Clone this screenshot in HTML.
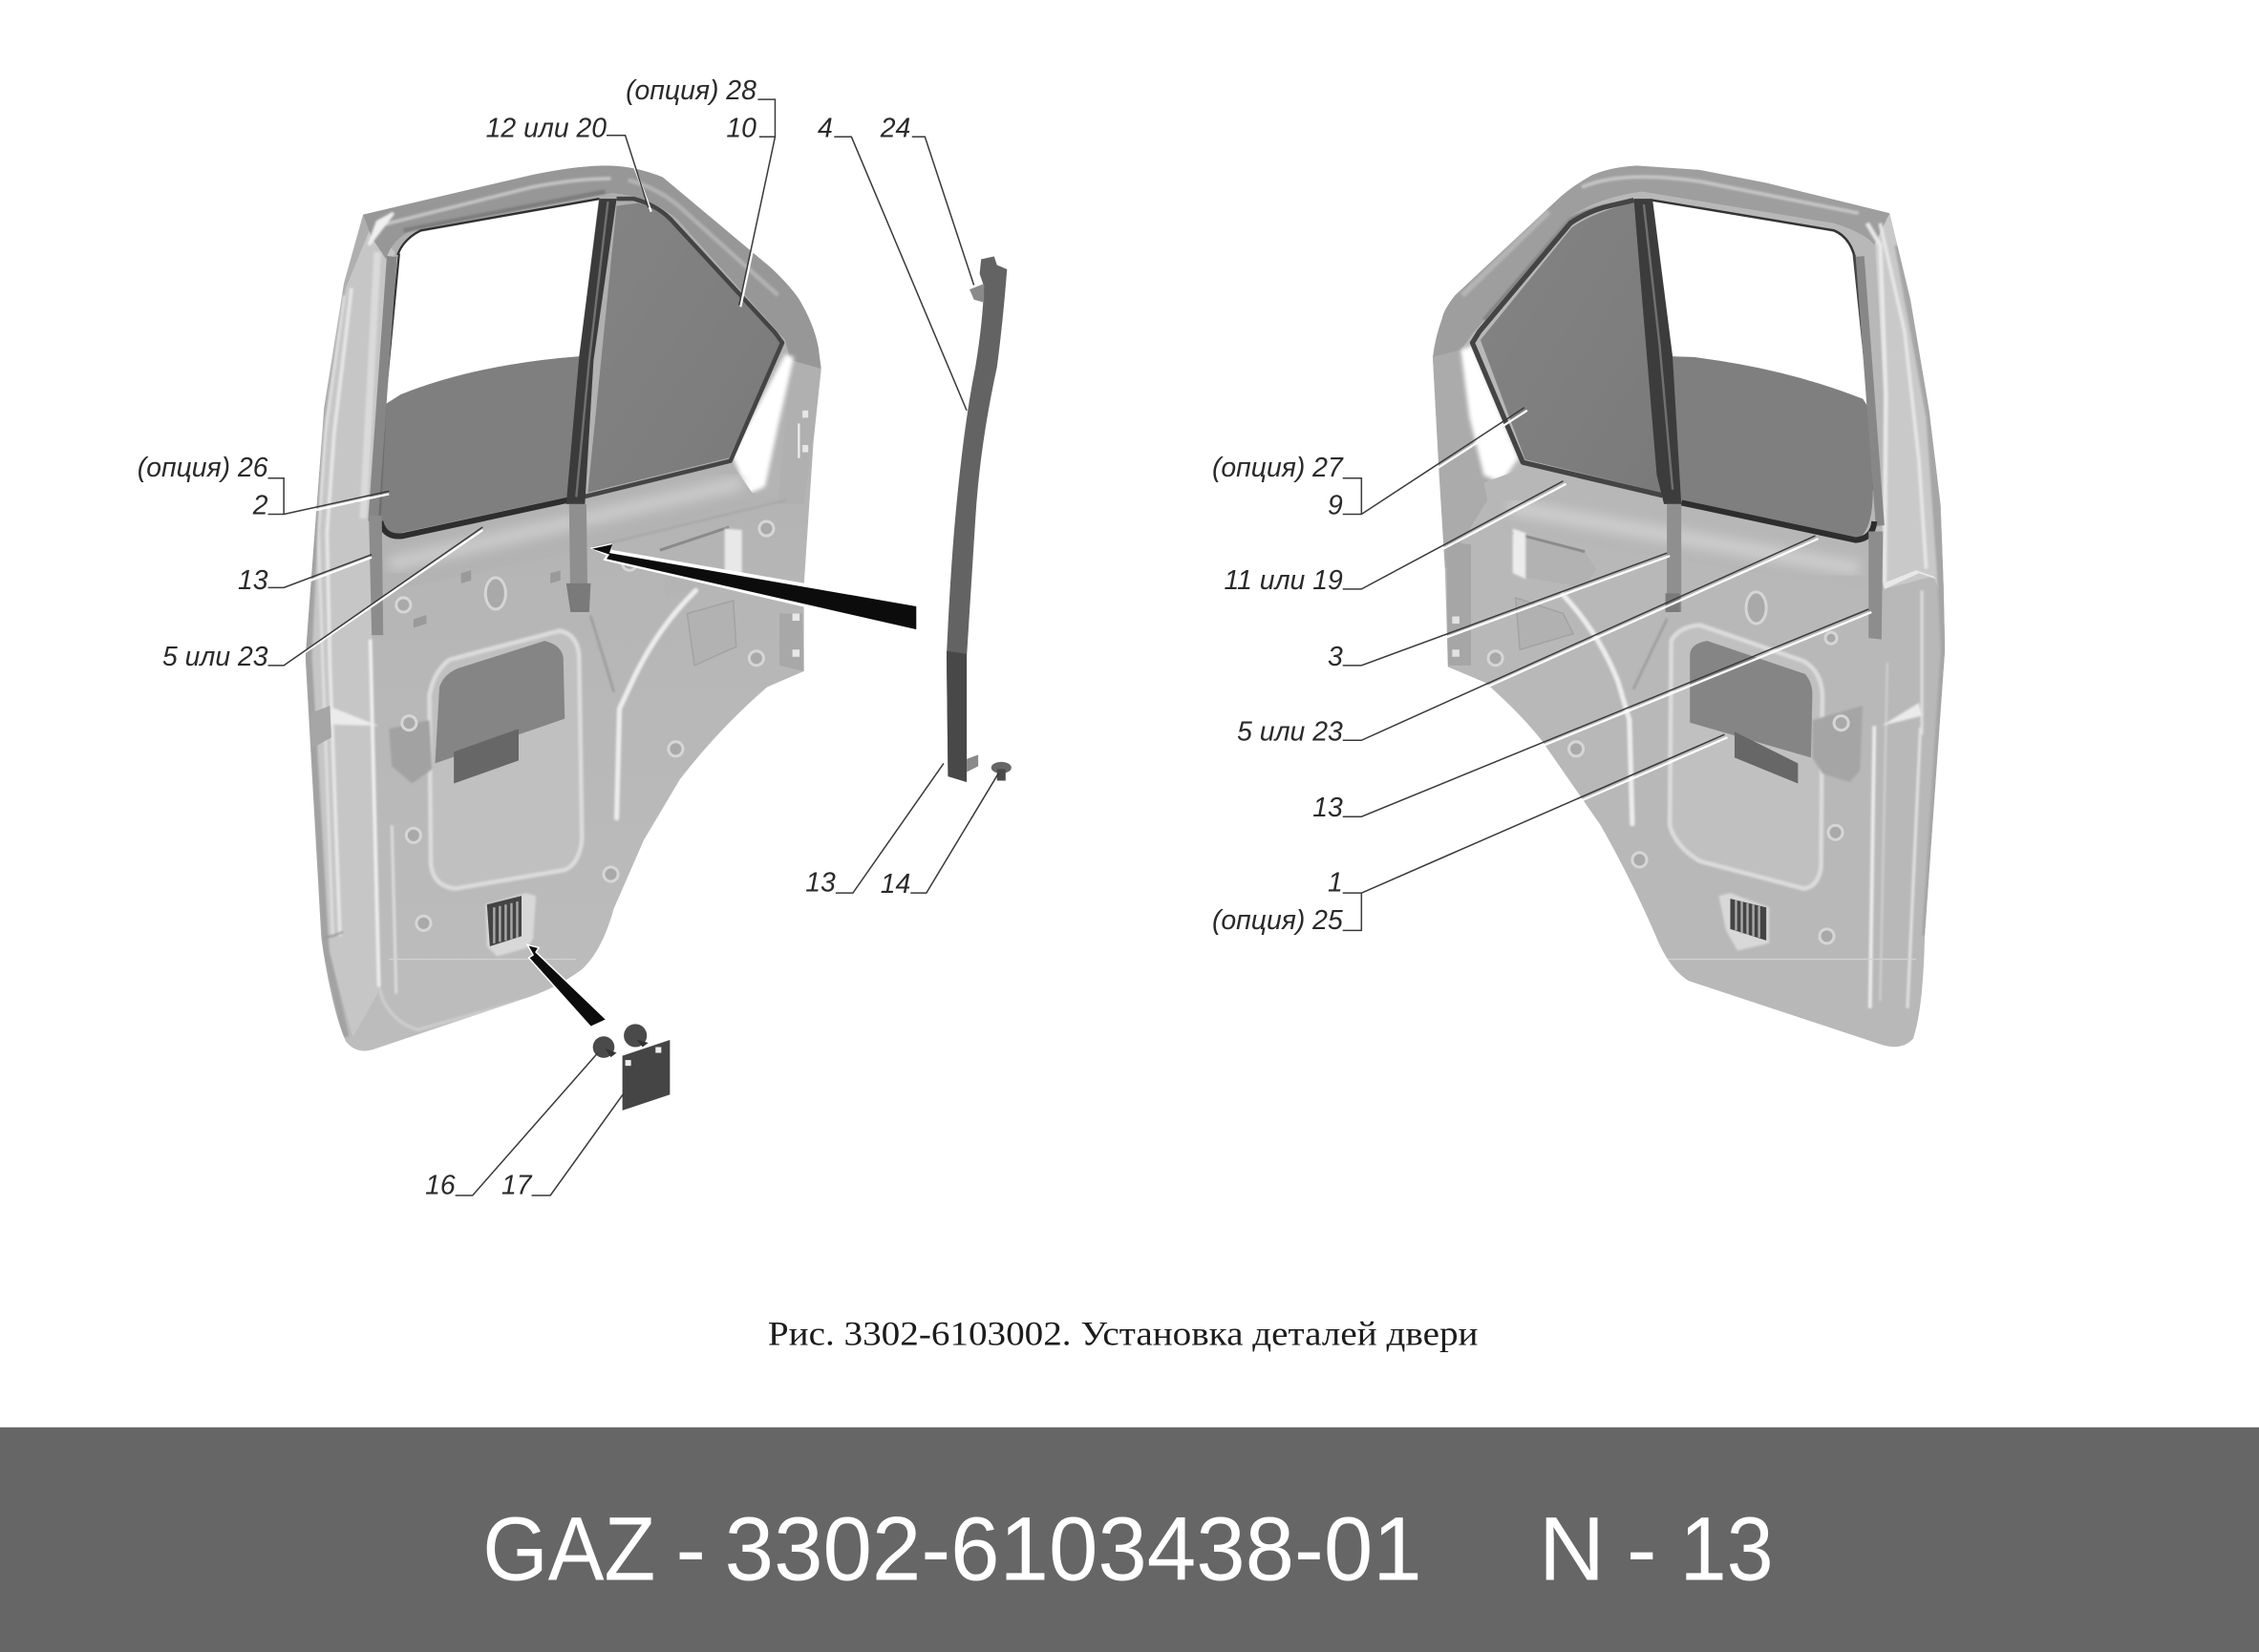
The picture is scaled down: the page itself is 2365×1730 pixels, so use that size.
<!DOCTYPE html>
<html lang="ru"><head><meta charset="utf-8"><title>GAZ 3302-6103438-01</title>
<style>html,body{margin:0;padding:0;background:#fff;width:2365px;height:1730px;overflow:hidden}svg{display:block}
.l{font:italic 18.8px "Liberation Sans",sans-serif;fill:#2a2a2a;text-anchor:end}
.b{font-family:"Liberation Sans",sans-serif;font-size:63px;fill:#fff}
</style></head><body>
<svg xmlns="http://www.w3.org/2000/svg" width="2365" height="1730" viewBox="0 0 1568 1147">
<defs>
<filter id="b1"><feGaussianBlur stdDeviation="0.7"/></filter>
<filter id="b2"><feGaussianBlur stdDeviation="1.4"/></filter>
<filter id="b4"><feGaussianBlur stdDeviation="4"/></filter>
<linearGradient id="panelL" x1="0" y1="0" x2="0" y2="1"><stop offset="0" stop-color="#adadad"/><stop offset="0.5" stop-color="#b6b6b6"/><stop offset="1" stop-color="#bdbdbd"/></linearGradient>
<linearGradient id="glass" x1="0" y1="0" x2="1" y2="1"><stop offset="0" stop-color="#848484"/><stop offset="1" stop-color="#7a7a7a"/></linearGradient>
<clipPath id="cL"><path d="M252,149 L369,121.5 Q400,115 421,115 Q440,115 460,123 L534.8,185.6 Q548,198 554.6,207.7 Q565,225 568,241 L570,256 L564.6,307 L558,406.6 L558,466 L532.5,477 Q500,505 472,541 L447,583 L426,631 Q418,660 404,673 Q385,687 362,694 L261,728 Q248,733 240,723 Q230,700 223,651 L212,456 L225,283 L238.7,196.6 Z"/></clipPath>
<clipPath id="cR"><path d="M1311.6,148 L1226,127 L1180,118 L1136,115 Q1118,116 1105,121.6 Q1090,130 1080.6,139 L1010,205 Q1002,215 1001,221 Q996,235 994.5,248 L999,331 L1003,395 L1005,463 L1031,474 Q1055,495 1070,514 L1111,573 Q1132,610 1149,649 Q1158,672 1172,681 L1305,725 Q1320,730 1328,721 Q1335,700 1336,649 L1350,451 L1349,406 L1347,351 L1339,285 L1326,208 Z"/></clipPath>
</defs>
<rect width="1568" height="1147" fill="#fff"/>

<!-- LEFT DOOR -->
<g clip-path="url(#cL)">
<rect x="200" y="100" width="380" height="640" fill="url(#panelL)"/>
<!-- left pillar light -->
<path d="M258,156 L274,175 L264,362 L258,445 L262,690 L245,720 L228,660 L214,456 L226,290 L240,200 Z" fill="#c6c6c6"/>
<!-- top rim -->
<path d="M252,149 L369,121.5 Q400,115 421,115 Q440,115 460,123 L534.8,185.6 Q548,198 554.6,207.7 Q565,225 568,241 L570,256 L549,252 L545,236 L470,152 Q450,136 425,134 L290,158 Q272,165 268,180 L258,165 Z" fill="#979797"/>
<!-- right of rear window -->
<path d="M549,250 L570,256 L564,307 L558,350 L540,350 Z" fill="#b0b0b0"/>
<path d="M545,246 L551,248 L540,296 L531,338 L519,343 L512,325 L508,316 Z" fill="#fff" filter="url(#b2)"/>
<!-- belt -->
<path d="M262,372 L508,322 L522,342 L546,347 L411,381 L262,412 Z" fill="#b3b3b3"/>
<path d="M270,392 L515,335" stroke="#cbcbcb" stroke-width="10" fill="none" filter="url(#b4)"/>
<path d="M411,380 L546,347" stroke="#a3a3a3" stroke-width="1" fill="none" filter="url(#b1)"/>
<g fill="none" filter="url(#b1)">
<path d="M262,157 L369,130 Q400,124 424,124" stroke="#c4c4c4" stroke-width="2.5"/>
<path d="M280,160 L420,133" stroke="#7d7d7d" stroke-width="3"/>
<path d="M436,125 Q455,130 470,142 L540,205" stroke="#b2b2b2" stroke-width="3"/>
<path d="M262,154 L273,148 L256,170 Z" fill="#f0f0f0" stroke="#f0f0f0" stroke-width="2"/>
<path d="M244,200 L232,300 L227,370 L229,462 L236,650" stroke="#e6e6e6" stroke-width="2.5"/>
<path d="M239,205 L226,300 L221,370 L224,460 L231,650" stroke="#dedede" stroke-width="2"/>
<path d="M232,210 L221,300 L214,456 L226,660 L240,720" stroke="#a2a2a2" stroke-width="5"/>
<path d="M257,444 L263,685" stroke="#efefef" stroke-width="2.5"/>
<path d="M272,573 L275,690" stroke="#dcdcdc" stroke-width="2"/>
<path d="M263,685 Q268,708 290,715 L380,690" stroke="#cfcfcf" stroke-width="2"/>
<path d="M262,175 L252,360" stroke="#dadada" stroke-width="5"/>
<path d="M225,651 Q232,650 238,647" stroke="#999" stroke-width="1.5"/>
</g>
<path d="M230,491 L263,504 L229,503 Z" fill="#ebebeb" filter="url(#b1)"/>
<path d="M216,495 L229,490 L230,512 L216,520 Z" fill="#a6a6a6"/>
<path d="M270,666 H400" stroke="#d2d2d2" stroke-width="0.8"/>
</g>
<!-- left window white -->
<path d="M267,281 L276,177 Q280,166 292,161 L415.5,139 L402,247.5 Q330,253 278,274 Z" fill="#fff"/>
<!-- left front glass -->
<path d="M267,281 L278,274 Q330,253 402,247.5 L394,345 L278,370 Q266,372 264,360 Z" fill="#7f7f7f"/>
<!-- left rear glass -->
<path d="M428,143 L443,141 Q458,145 468,157 L538,232 L542,238 L506,318 L408,342 Z" fill="url(#glass)"/>
<g fill="none" stroke-linejoin="round">
<path d="M276,177 Q280,166 292,160 L416,138" stroke="#2f2f2f" stroke-width="1.5"/>
<path d="M277,176 L267,281" stroke="#333" stroke-width="1.5"/>
<path d="M267,281 L263,362" stroke="#6d6d6d" stroke-width="2.5"/>
<path d="M272,178 L259,362" stroke="#868686" stroke-width="7"/>
<path d="M264,362 Q267,374 280,372 L395,347" stroke="#2e2e2e" stroke-width="4"/>
<path d="M405,345 L507,320 L543,238 L538,231 L468,155 Q458,143 440,138 L428,138" stroke="#444" stroke-width="3"/>
</g>
<path d="M416,138 L428,138 L412,250 L406,350 L393,350 L402,247.5 Z" fill="#3b3b3b"/>
<path d="M422,140 L409,250 L400,345" stroke="#707070" stroke-width="1.6" fill="none"/>
<!-- left translucent strips -->
<path d="M395,350 L407,350 L408,425 L396,425 Z" fill="#8f8f8f"/>
<path d="M256,358 L265,358 L266,441 L258,441 Z" fill="#8c8c8c"/>
<path d="M393,405 L410,405 L409,425 L396,425 Z" fill="#7a7a7a"/>
<!-- left handle recess -->
<path d="M458,382 L506,366 L515,368 L515,398 L462,415 Z" fill="#b4b4b4"/>
<path d="M458,382 L506,366" stroke="#8a8a8a" stroke-width="2"/>
<path d="M503,367 L515,368 L515,398 L503,399 Z" fill="#e8e8e8" filter="url(#b1)"/>
<path d="M477,426 L509,417 L511,449 L482,462 Z" fill="#b2b2b2" stroke="#a3a3a3" stroke-width="1"/>
<!-- hinges -->
<path d="M541,426 L557,426 L558,466 L541,462 Z" fill="#a8a8a8"/>
<rect x="550" y="426" width="5" height="5" fill="#e8e8e8"/><rect x="550" y="451" width="5" height="5" fill="#e8e8e8"/>
<rect x="557" y="285" width="4" height="5" fill="#e6e6e6"/><rect x="557" y="309" width="4" height="5" fill="#e6e6e6"/>
<path d="M554.5,294 V318" stroke="#ededed" stroke-width="1.5"/>
<!-- left pocket -->
<path d="M298,483 Q301,466 312,458 L388,438 Q401,440 402,456 L404,583 Q402,600 392,604 L316,617 Q300,615 299,599 Z" fill="#c0c0c0" stroke="#dcdcdc" stroke-width="3" filter="url(#b1)"/>
<path d="M270,506 L298,500 L300,534 L286,544 L272,532 Z" fill="#a2a2a2" filter="url(#b1)"/>
<path d="M305,477 Q308,468 318,464 L378,445 Q390,448 391,457 L392,499 L302,530 Z" fill="#858585"/>
<path d="M315,522 L360,506 L360,528 L315,544 Z" fill="#676767"/>
<!-- left ribs and holes -->
<g fill="none" stroke-linecap="round" filter="url(#b1)">
<path d="M483,410 Q455,437 437,477 L430,492 L428,568" stroke="#ececec" stroke-width="3.5"/>
<path d="M410,428 Q420,460 426,480" stroke="#999" stroke-width="1.5"/>
</g>
<g fill="#a9a9a9" stroke="#d6d6d6" stroke-width="2">
<circle cx="280" cy="420" r="5"/><circle cx="284" cy="502" r="5"/><circle cx="287" cy="580" r="5"/><circle cx="294" cy="641" r="5"/><circle cx="424" cy="607" r="5"/><circle cx="469" cy="520" r="5"/><circle cx="532" cy="367" r="5"/><circle cx="525" cy="457" r="5"/><circle cx="437" cy="391" r="5"/>
<ellipse cx="344" cy="412" rx="7" ry="11"/>
</g>
<path d="M320,398 l7,-2 l0,7 l-7,2z M382,398 l7,-2 l0,7 l-7,2z M287,430 l9,-3 l0,6 l-9,3z" fill="#9a9a9a"/>
<!-- left vent -->
<path d="M337,628 L365,620 L372,622 L370,652 L366,658 L345,664 L338,657 Z" fill="#d8d8d8" filter="url(#b1)"/>
<path d="M338,628 L362,622 L362,650 L340,657 Z" fill="#444"/>
<g stroke="#a8a8a8" stroke-width="1.6"><path d="M343,630 V655 M347,629 V654 M351,628 V653 M355,627 V652 M359,626 V651"/></g>

<!-- halos and leaders left -->
<g stroke="#fff" stroke-width="1.5" fill="none">
<path d="M197,359 L270,343 M197,410 L258,387 M197,463 L335,368 M539,96 L514,213 M433,96 L452,147"/>
</g>

<!-- arrows -->
<path d="M414,381 L423,379 L423,383 L636,420 L636,438 L421,388 L423,385 Z" fill="#fff" stroke="#fff" stroke-width="3"/>
<path d="M411,381 L425,378 L423,384 L636,421 L636,437 L421,388 L423,385 Z" fill="#0c0c0c"/>
<path d="M366,656 L374,658 L372,661 L421,708 L410,713 L367,665 L370,663 Z" fill="#0c0c0c" stroke="#fff" stroke-width="1"/>

<!-- strut -->
<path d="M681,180 L690,178 L692,184 L699,187 Q696,225 692,255 Q680,310 677,361 L671,456 L671,543 L658,539 L657,456 Q659,410 662,372 Q668,300 677,255 Q682,225 683,199 L680,190 Z" fill="#636363"/>
<path d="M657,452 L671,454 L671,543 L658,539 Z" fill="#484848"/>
<path d="M673,201 L683,197 L683,210 L676,208 Z" fill="#8a8a8a"/>
<path d="M671,527 L679,524 L679,532 L671,536 Z" fill="#8a8a8a"/>
<ellipse cx="695" cy="533" rx="7" ry="4" fill="#666"/><rect x="692" y="534" width="6" height="8" fill="#4a4a4a"/>

<!-- small parts -->
<circle cx="419" cy="727" r="7.5" fill="#4a4a4a"/><path d="M420,728 L428,731 L424,734 Z" fill="#333"/>
<circle cx="441" cy="719" r="8" fill="#4a4a4a"/><path d="M442,722 L450,724 L446,727 Z" fill="#333"/>
<path d="M432,733 L465,722 L465,760 L432,771 Z" fill="#454545"/>
<rect x="434" y="736" width="4" height="4" fill="#eee"/><rect x="455" y="727" width="4" height="4" fill="#eee"/>

<!-- RIGHT DOOR -->
<g clip-path="url(#cR)">
<rect x="980" y="100" width="380" height="640" fill="#b8b8b8"/>
<path d="M1301,165 L1308,274 L1308,409 L1342,400 L1350,420 L1355,300 L1330,200 L1312,148 Z" fill="#c9c9c9"/>
<!-- rim -->
<path d="M1311.6,148 L1226,127 L1180,118 L1136,115 Q1118,116 1105,121.6 Q1090,130 1080.6,139 L1010,205 Q1002,215 1001,221 Q996,235 994.5,248 L1014,243 L1022,232 L1090,150 Q1113,136 1140,133 L1273,155 Q1295,162 1301,170 Z" fill="#9e9e9e"/>
<path d="M994,248 L1014,243 L1040,335 L1003,395 Z" fill="#ababab"/>
<path d="M1014,243 L1022,240 L1054,318 L1042,335 L1030,330 L1020,290 Z" fill="#fff" filter="url(#b2)"/>
<path d="M1030,335 L1058,325 L1298,375 L1303,410 L1050,372 L1034,355 Z" fill="#b7b7b7"/>
<path d="M1048,352 L1290,395" stroke="#cecece" stroke-width="10" fill="none" filter="url(#b4)"/>
<g fill="none" filter="url(#b1)">
<path d="M1098,130 Q1125,118 1180,126 L1290,148" stroke="#c6c6c6" stroke-width="2.5"/>
<path d="M1015,205 L1075,147" stroke="#b4b4b4" stroke-width="4"/>
<path d="M1120,142 Q1100,146 1090,152 L1030,222" stroke="#7c7c7c" stroke-width="2"/>
<path d="M1296,155 L1305,170 L1309,274 L1308,405" stroke="#e8e8e8" stroke-width="3"/>
<path d="M1305,155 L1322,230 L1332,320 L1337,395" stroke="#e6e6e6" stroke-width="2.5"/>
<path d="M1318,170 L1340,290 L1348,405 L1350,452 L1337,650" stroke="#a6a6a6" stroke-width="6"/>
<path d="M1301,504 L1298,700" stroke="#ececec" stroke-width="2.5"/>
<path d="M1334,410 V510" stroke="#dedede" stroke-width="2"/>
<path d="M1333,505 L1324,700" stroke="#e2e2e2" stroke-width="2"/>
<path d="M1310,460 L1305,695" stroke="#cfcfcf" stroke-width="1.5"/>
</g>
<path d="M1308,409 L1332,398 L1344,402 L1342,400 L1330,396 L1307,405 Z" fill="#e8e8e8"/>
<path d="M1306,504 L1332,488 L1334,497 Z" fill="#ebebeb" filter="url(#b1)"/>
<path d="M1004,376 L1021,378 L1021,462 L1005,462 Z" fill="#a6a6a6"/>
<path d="M1150,666 H1330" stroke="#d2d2d2" stroke-width="0.8"/>
</g>
<!-- right window white -->
<path d="M1147,139 L1273,161 Q1283,166 1286,177 L1297,283 L1293,277 Q1240,256 1176,248 L1161,247.5 Z" fill="#fff"/>
<!-- right front glass -->
<path d="M1161,247.5 L1176,248 Q1240,256 1293,277 L1297,283 L1300,340 Q1300,370 1288,375 L1165,347 Z" fill="#7f7f7f"/>
<!-- right rear glass -->
<path d="M1134,139 L1129,142 Q1105,148 1091,158 L1027.6,236 L1058.6,319 L1153,342 Z" fill="url(#glass)"/>
<g fill="none" stroke-linejoin="round">
<path d="M1147,139 L1273,160 Q1283,164 1287,177" stroke="#333" stroke-width="1.6"/>
<path d="M1287,177 L1298,283 L1301,340" stroke="#444" stroke-width="2"/>
<path d="M1291,178 L1305,365" stroke="#878787" stroke-width="6"/>
<path d="M1167,349 L1288,375 Q1300,374 1301,362" stroke="#2e2e2e" stroke-width="4"/>
<path d="M1154,344 L1057,321 L1022,238 L1027,230 L1090,155 Q1100,148 1113,144 L1134,139" stroke="#444" stroke-width="3.5"/>
</g>
<path d="M1134,138 L1147,138 L1161,248 L1167,350 L1155,350 L1150,330 Z" fill="#3c3c3c"/>
<path d="M1141,142 L1152,240 L1161,340" stroke="#707070" stroke-width="1.6" fill="none"/>
<!-- right strips -->
<path d="M1157,350 L1167,350 L1167,425 L1157,425 Z" fill="#8f8f8f"/>
<path d="M1297,369 L1307,369 L1306,444 L1297,443 Z" fill="#8d8d8d"/>
<path d="M1156,412 L1166,412 L1166,425 L1156,425 Z" fill="#7a7a7a"/>
<!-- right handle -->
<path d="M1050,370 L1100,383 L1108,395 L1100,408 L1054,400 Z" fill="#b2b2b2"/>
<path d="M1050,370 L1100,383" stroke="#8c8c8c" stroke-width="2"/>
<path d="M1050,367 L1059,370 L1059,402 L1050,398 Z" fill="#ececec" filter="url(#b1)"/>
<path d="M1052,415 L1085,426 L1092,440 L1055,451 Z" fill="#b1b1b1" stroke="#a3a3a3" stroke-width="1"/>
<!-- right pocket -->
<path d="M1160,445 Q1165,435 1180,434 L1252,459 Q1264,466 1265,482 L1264,602 Q1262,616 1252,617 L1180,598 Q1163,588 1159,573 Z" fill="#c0c0c0" stroke="#dcdcdc" stroke-width="3" filter="url(#b1)"/>
<path d="M1258,500 L1293,490 L1291,535 L1284,543 L1265,537 L1258,526 Z" fill="#a5a5a5" filter="url(#b1)"/>
<path d="M1173,455 Q1173,447 1185,445 L1253,468 Q1258,474 1258,482 L1257,526 L1173,501.7 Z" fill="#858585"/>
<path d="M1204,508 L1248,530 L1248,544 L1204,526 Z" fill="#676767"/>
<!-- right ribs and holes -->
<g fill="none" stroke-linecap="round" filter="url(#b1)">
<path d="M1085,413 Q1110,440 1123,473 L1131,500 L1133,572" stroke="#ececec" stroke-width="3.5"/>
<path d="M1157,430 Q1140,465 1134,478" stroke="#999" stroke-width="1.5"/>
</g>
<g fill="#a9a9a9" stroke="#d6d6d6" stroke-width="2">
<circle cx="1038" cy="457" r="5"/><circle cx="1094" cy="520" r="5"/><circle cx="1138" cy="597" r="5"/><circle cx="1278" cy="502" r="5"/><circle cx="1274" cy="578" r="5"/><circle cx="1268" cy="650" r="5"/>
<ellipse cx="1219" cy="422" rx="7" ry="11"/><circle cx="1271" cy="443" r="4"/>
</g>
<rect x="1008" y="428" width="5" height="5" fill="#e2e2e2"/><rect x="1008" y="451" width="5" height="5" fill="#e2e2e2"/>
<!-- right vent -->
<path d="M1193,622 L1201,620 L1228,630 L1228,655 L1206,660 L1198,646 Z" fill="#d8d8d8" filter="url(#b1)"/>
<path d="M1201,624 L1226,630 L1226,653 L1201,645 Z" fill="#444"/>
<g stroke="#a8a8a8" stroke-width="1.6"><path d="M1205,625 V646 M1209,626 V648 M1213,627 V649 M1217,628 V650 M1221,629 V651"/></g>

<!-- white halos right -->
<g stroke="#fff" stroke-width="1.5" fill="none">
<path d="M945,359 L1060,285 M945,411 L1087,336 M945,464 L1159,386 M945,516 L1262,374 M945,569 L1299,425 M945,622 L1199,512"/>
</g>

<!-- leaders -->
<g stroke="#3a3a3a" stroke-width="1" fill="none">
<path d="M526,69 H538 V95 H527 M538,95 L513,212"/>
<path d="M421,94 H434 L450,144"/>
<path d="M579,95 H591 L671,285"/>
<path d="M633,95 H642 L676,198"/>
<path d="M186,332 H197 V357 H186 M197,357 L270,341"/>
<path d="M186,408 H197 L258,385"/>
<path d="M186,462 H197 L335,366"/>
<path d="M580,620 H592 L655,530"/>
<path d="M632,620 H643 L693,537"/>
<path d="M316,830 H328 L415,731"/>
<path d="M369,830 H382 L433,759"/>
<path d="M932,332 H945 V357 H932 M945,357 L1058,283"/>
<path d="M932,409 H945 L1085,334"/>
<path d="M932,462 H945 L1157,384"/>
<path d="M932,514 H945 L1260,372"/>
<path d="M932,567 H945 L1297,423"/>
<path d="M932,620 H945 V646 H932 M945,620 L1197,510"/>
</g>

<!-- labels -->
<text class="l" x="525" y="69">(опция) 28</text>
<text class="l" x="525" y="95">10</text>
<text class="l" x="421" y="95">12 или 20</text>
<text class="l" x="578" y="95">4</text>
<text class="l" x="632" y="95">24</text>
<text class="l" x="186" y="331">(опция) 26</text>
<text class="l" x="186" y="357">2</text>
<text class="l" x="186" y="409">13</text>
<text class="l" x="186" y="462">5 или 23</text>
<text class="l" x="580" y="619">13</text>
<text class="l" x="632" y="620">14</text>
<text class="l" x="316" y="829">16</text>
<text class="l" x="369" y="829">17</text>
<text class="l" x="932" y="331">(опция) 27</text>
<text class="l" x="932" y="357">9</text>
<text class="l" x="932" y="409">11 или 19</text>
<text class="l" x="932" y="462">3</text>
<text class="l" x="932" y="514">5 или 23</text>
<text class="l" x="932" y="567">13</text>
<text class="l" x="932" y="619">1</text>
<text class="l" x="932" y="645">(опция) 25</text>

<text x="533" y="934" font-family="'Liberation Serif',serif" font-size="24" fill="#1c1c1c" textLength="493" lengthAdjust="spacingAndGlyphs">Рис. 3302-6103002. Установка деталей двери</text>

<rect x="0" y="991" width="1568" height="156" fill="#666"/>
<text class="b" x="335" y="1097" textLength="120" lengthAdjust="spacingAndGlyphs">GAZ</text>
<text class="b" x="469" y="1097">-</text>
<text class="b" x="503" y="1097" textLength="484" lengthAdjust="spacingAndGlyphs">3302-6103438-01</text>
<text class="b" x="1068" y="1097" textLength="46" lengthAdjust="spacingAndGlyphs">N</text>
<text class="b" x="1129" y="1097">-</text>
<text class="b" x="1166" y="1097" textLength="65" lengthAdjust="spacingAndGlyphs">13</text>
</svg>
</body></html>
